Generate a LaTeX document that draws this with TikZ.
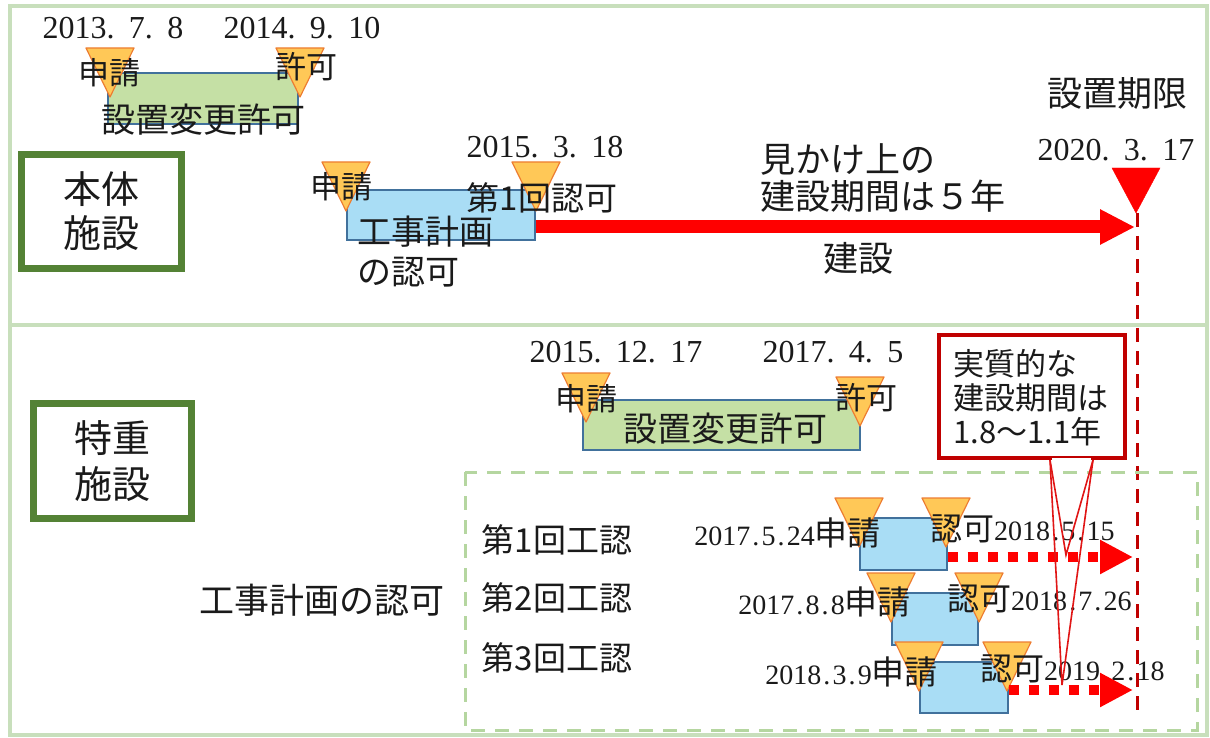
\documentclass[tikz,border=0pt]{standalone}
\usepackage{fontspec}
\setmainfont{Liberation Serif}
\newfontfamily\jp{Noto Sans CJK JP}
\usetikzlibrary{arrows.meta}
\definecolor{frameG}{HTML}{C8DFBC}
\definecolor{boxG}{HTML}{548235}
\definecolor{triF}{HTML}{FFC857}
\definecolor{triD}{HTML}{ED7D31}
\definecolor{grF}{HTML}{C5E0A5}
\definecolor{blF}{HTML}{A9DDF5}
\definecolor{rectD}{HTML}{41719C}
\definecolor{dashG}{HTML}{B5D6A0}
\definecolor{darkR}{HTML}{C00000}
\definecolor{brightR}{HTML}{FF0000}
\definecolor{wedgeR}{HTML}{E01515}
\definecolor{txt}{HTML}{1A1A1A}
\newcommand{\pd}{\makebox[0.4em]{.}}
\newcommand{\ps}{\makebox[0.7em][l]{.}}
\newcommand{\fs}[2]{\fontsize{#1}{#2}\selectfont}
\begin{document}
\begin{tikzpicture}[x=1pt,y=-1pt,
  jt/.style={inner sep=0pt, text=txt},
  dt/.style={inner sep=0pt, text=txt},
  tri/.style={fill=triF, draw=triD, line width=1.2pt, line join=round},
  trid/.pic={\filldraw[tri] (-24,0) -- (24,0) -- (0,49) -- cycle;},
  grect/.style={fill=grF, draw=rectD, line width=1.1pt, inner sep=0pt},
  brect/.style={fill=blF, draw=rectD, line width=1.1pt, inner sep=0pt},
  gbox/.style={draw=boxG, line width=7pt, inner sep=0pt, text=txt, align=center},
  bigarrow/.style={draw=brightR, line width=13pt, -{Triangle[length=35pt,width=33pt]}},
  dotarrow/.style={draw=brightR, line width=10pt, dash pattern=on 10pt off 10pt, -{Triangle[length=33pt,width=32pt]}},
  vdash/.style={draw=darkR, line width=3pt, dash pattern=on 14pt off 9pt},
  wedge/.style={draw=wedgeR, line width=1.6pt, line join=miter}
]
\useasboundingbox (0,0) rectangle (1210,738);
% frame
\draw[frameG, line width=4pt] (10,6) rectangle (1207,735);
\draw[frameG, line width=4pt] (10,325) -- (1207,325);

% ---------- top panel ----------
\node[dt, font=\fs{32}{32}] (d1) at (113,28) {2013\ps7\ps8};
\node[dt, font=\fs{32}{32}] (d2) at (302,28) {2014\ps9\ps10};
\node[grect, minimum width=190pt, minimum height=51pt] (g1) at (203,98.5) {};
\pic at (110,48) {trid};
\pic at (300,48) {trid};
\node[jt, font=\jp\fs{31}{31}] (s1) at (109,73) {申請};
\node[jt, font=\jp\fs{31}{31}] (k1) at (306,67) {許可};
\node[jt, font=\jp\fs{34}{34}] (g1t) at (203,120) {設置変更許可};

\node[gbox, minimum width=160pt, minimum height=114pt, font=\jp\fs{38}{44}] (hontai) at (101.5,211.5) {本体\\施設};

\node[dt, font=\fs{32}{32}] (d3) at (545,147) {2015\ps3\ps18};
\node[brect, minimum width=188pt, minimum height=50pt] (b1) at (441,215) {};
\pic at (346,162) {trid};
\pic at (536,162) {trid};
\node[jt, font=\jp\fs{31}{31}] (s2) at (341,187) {申請};
\node[jt, font=\jp\fs{33}{33}] (n1) at (542,198) {第1回認可};
\node[jt, font=\jp\fs{34}{40}, align=left, anchor=west] (kk) at (357,252) {工事計画\\の認可};

\coordinate (tipA) at (1135,227);
\draw[bigarrow] (b1.east |- tipA) -- (tipA);
\node[jt, font=\jp\fs{35}{37}, align=left, anchor=west] (mk) at (760,178.5) {見かけ上の\\建設期間は５年};
\node[jt, font=\jp\fs{35}{35}] (ks) at (858,258) {建設};
\node[jt, font=\jp\fs{35}{35}] (sk) at (1117,93) {設置期限};
\node[dt, font=\fs{32}{32}] (d4) at (1116,150) {2020\ps3\ps17};
\filldraw[brightR] (1112,168) -- (1160,168) -- (1136,213) -- cycle;
\coordinate (lim) at (1137,213);
\coordinate (limb) at (1137,713);
\draw[vdash] (lim) -- (limb);

% ---------- bottom panel ----------
\node[gbox, minimum width=158pt, minimum height=115pt, font=\jp\fs{38}{46}] (tokuju) at (112.5,461) {特重\\施設};

\node[dt, font=\fs{32}{32}] (d5) at (616,352) {2015\ps12\ps17};
\node[dt, font=\fs{32}{32}] (d6) at (833,352) {2017\ps4\ps5};
\node[grect, minimum width=277pt, minimum height=50pt] (g2) at (721.5,425) {};
\pic at (586,373) {trid};
\pic at (860,377) {trid};
\node[jt, font=\jp\fs{31}{31}] (s3) at (586,399) {申請};
\node[jt, font=\jp\fs{31}{31}] (k2) at (866,398) {許可};
\node[jt, font=\jp\fs{34}{34}] (g2t) at (725,429) {設置変更許可};

\draw[dashG, line width=3pt, dash pattern=on 14pt off 10pt] (465,472) rectangle (1197,730);

\node[jt, font=\jp\fs{33}{33}] (w1l) at (557,540) {第1回工認};
\node[jt, font=\jp\fs{33}{33}] (w2l) at (557,598) {第2回工認};
\node[jt, font=\jp\fs{33}{33}] (w3l) at (557,658) {第3回工認};
\node[jt, font=\jp\fs{35}{35}] (kkn) at (322,600) {工事計画の認可};

% row 1
\node[brect, minimum width=87pt, minimum height=52pt] (r1) at (903.5,544) {};
\pic at (859,498) {trid};
\pic at (946,498) {trid};
\node[dt, anchor=base east, font=\fs{28}{28}] (r1a) at (881,545.5) {2017\pd5\pd24{\jp\fs{33}{33}申請}};
\node[dt, anchor=base west, font=\fs{28}{28}] (r1b) at (930,540) {{\jp\fs{32}{32}認可}2018\pd5\pd15};
% row 2
\node[brect, minimum width=86pt, minimum height=52pt] (r2) at (935,619) {};
\pic at (891,573) {trid};
\pic at (979,573) {trid};
\node[dt, anchor=base east, font=\fs{28}{28}] (r2a) at (911,614) {2017\pd8\pd8{\jp\fs{33}{33}申請}};
\node[dt, anchor=base west, font=\fs{28}{28}] (r2b) at (947,610) {{\jp\fs{32}{32}認可}2018\pd7\pd26};
% row 3
\node[brect, minimum width=88pt, minimum height=51pt] (r3) at (964,687.5) {};
\pic at (919,642) {trid};
\pic at (1007,642) {trid};
\node[dt, anchor=base east, font=\fs{28}{28}] (r3a) at (938,684) {2018\pd3\pd9{\jp\fs{33}{33}申請}};
\node[dt, anchor=base west, font=\fs{28}{28}] (r3b) at (980,680) {{\jp\fs{32}{32}認可}2019\pd2\pd18};

\coordinate (e1) at (1133,557);
\draw[dotarrow] (r1.east |- e1) -- (e1);
\coordinate (e3) at (1133,690);
\draw[dotarrow] (r3.east |- e3) -- (e3);

% callout
\node[draw=darkR, line width=4pt, fill=white, minimum width=186pt, minimum height=123pt, inner sep=0pt] (cb) at (1032,396.5) {};
\node[jt, font=\jp\fs{31}{34}, align=left, anchor=west] (cbt) at (953,398) {実質的な\\建設期間は\\1.8～1.1年};
\coordinate (wl) at (1050,460);
\coordinate (wr) at (1093,460);
\coordinate (wt1) at (1066,555);
\coordinate (wt2) at (1062,685);
\draw[white, line width=5pt] (1052,460) -- (1091,460);
\draw[wedge] (wl) -- (wt1) -- (wr);
\draw[wedge] (wl) -- (wt2) -- (wr);
\end{tikzpicture}
\end{document}
